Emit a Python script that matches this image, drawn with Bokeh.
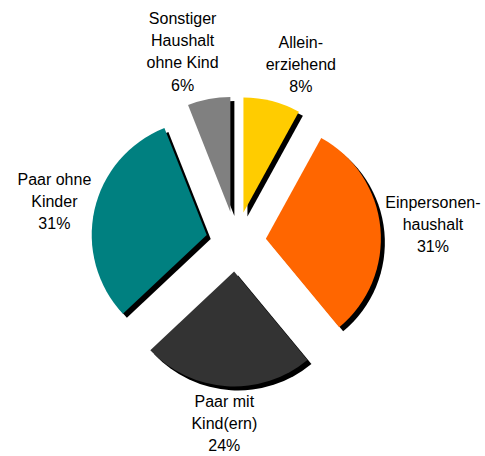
import math
from bokeh.plotting import figure
from bokeh.models import Range1d, ColumnDataSource
from bokeh.embed import file_html
from bokeh.resources import INLINE
from bokeh.core.properties import value

# ---- data ----
categories = ["Allein-\nerziehend", "Einpersonen-\nhaushalt", "Paar mit\nKind(ern)",
              "Paar ohne\nKinder", "Sonstiger\nHaushalt\nohne Kind"]
shares = [8, 31, 24, 31, 6]
colors = ["#FFCC00", "#FF6600", "#333333", "#008080", "#808080"]

# ---- layout ----
W, H = 484, 455
CX, CY = 235.5, H - 241
R = 115
EXPLODE = 30
SHADOW = 4
LABEL_R = 151
LINE_H = 21
CHAR_W = 7.8
MIN_GAP = 48

total = sum(shares)
cum = 0
xs, ys, starts, ends, sx, sy = [], [], [], [], [], []
labels, lx, ly, lw, lh = [], [], [], [], []
for cat, v in zip(categories, shares):
    a0 = math.pi / 2 - 2 * math.pi * cum / total
    a1 = math.pi / 2 - 2 * math.pi * (cum + v) / total
    cum += v
    mid = (a0 + a1) / 2
    cx = CX + EXPLODE * math.cos(mid)
    cy = CY + EXPLODE * math.sin(mid)
    xs.append(cx); ys.append(cy)
    sx.append(cx + SHADOW); sy.append(cy - SHADOW)
    starts.append(a1); ends.append(a0)
    text = f"{cat}\n{v}%"
    lines = text.split("\n")
    w = max(len(l) for l in lines) * CHAR_W
    h = len(lines) * LINE_H
    ax = CX + LABEL_R * math.cos(mid)
    ay = CY + LABEL_R * math.sin(mid)
    labels.append(text)
    lx.append(ax + w / 2 * math.cos(mid))
    ly.append(ay + h / 2 * math.sin(mid))
    lw.append(w); lh.append(h)

# simple horizontal collision avoidance between labels sharing vertical space
n = len(labels)
for i in range(n):
    for j in range(i + 1, n):
        if abs(ly[i] - ly[j]) < (lh[i] + lh[j]) / 2:
            left, right = (i, j) if lx[i] < lx[j] else (j, i)
            gap = (lx[right] - lw[right] / 2) - (lx[left] + lw[left] / 2)
            if gap < MIN_GAP:
                d = (MIN_GAP - gap) / 2
                lx[left] -= d
                lx[right] += d

src = ColumnDataSource(dict(x=xs, y=ys, sx=sx, sy=sy, start=starts, end=ends, color=colors))
lsrc = ColumnDataSource(dict(x=lx, y=ly, text=labels))

p = figure(width=W, height=H, x_range=Range1d(0, W), y_range=Range1d(0, H),
           output_backend="svg", toolbar_location=None, min_border=0,
           x_axis_type=None, y_axis_type=None, outline_line_color=None)
p.grid.visible = False

p.wedge(x="sx", y="sy", radius=R, start_angle="start", end_angle="end",
        direction="anticlock", fill_color="black", line_color=None, source=src)
p.wedge(x="x", y="y", radius=R, start_angle="start", end_angle="end",
        direction="anticlock", fill_color="color", line_color=None, source=src)

p.text(x="x", y="y", text="text", source=lsrc, text_align="center", text_baseline="middle",
       text_font=value("Liberation Sans"), text_font_size="16px", text_line_height=1.3,
       text_color="black")

open("out.html", "w").write(file_html(p, INLINE))
